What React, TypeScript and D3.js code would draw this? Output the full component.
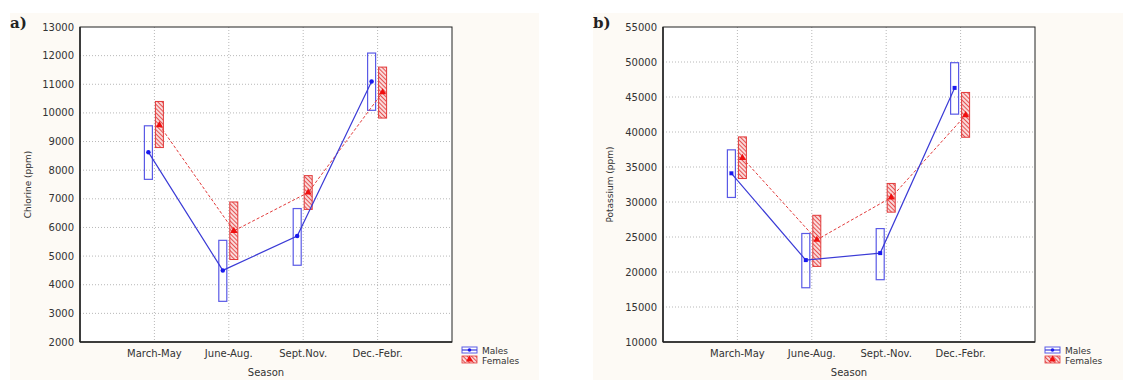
import * as d3 from "d3";

// seasons (x categories)
const seasonsA = ["March-May", "June-Aug.", "Sept.Nov.", "Dec.-Febr."];
const seasonsB = ["March-May", "June-Aug.", "Sept.-Nov.", "Dec.-Febr."];

// a) chlorine (ppm): means and box limits
const maleMeanCl = [8630, 4500, 5700, 11100];
const maleHiCl = [9550, 5550, 6660, 12090];
const maleLoCl = [7680, 3420, 4680, 10090];
const femaleMeanCl = [9570, 5880, 7220, 10720];
const femaleHiCl = [10400, 6890, 7810, 11600];
const femaleLoCl = [8790, 4880, 6630, 9820];
const ticksCl = [2000, 3000, 4000, 5000, 6000, 7000, 8000, 9000, 10000, 11000, 12000, 13000];

// b) potassium (ppm)
const maleMeanK = [34100, 21700, 22700, 46300];
const maleHiK = [37450, 25500, 26200, 49900];
const maleLoK = [30650, 17750, 18900, 42550];
const femaleMeanK = [36300, 24600, 30650, 42400];
const femaleHiK = [39300, 28100, 32650, 45650];
const femaleLoK = [33350, 20800, 28550, 39250];
const ticksK = [10000, 15000, 20000, 25000, 30000, 35000, 40000, 45000, 50000, 55000];

const legendNames = ["Males", "Females"];

const FONT = "'DejaVu Sans', sans-serif";
const BLUE = "#3b3bd6";
const RED = "#e23a3a";

type PanelProps = {
  id: string;
  title: string;
  bgX: number;
  bgW: number;
  left: number;
  right: number;
  yLabel: string;
  yLabelX: number;
  cats: string[];
  ticks: number[];
  mMean: number[];
  mHi: number[];
  mLo: number[];
  fMean: number[];
  fHi: number[];
  fLo: number[];
  squareMarker: boolean;
};

function Panel(p: PanelProps) {
  const top = 27;
  const bottom = 342;
  const x = d3.scalePoint<string>().domain(p.cats).range([p.left, p.right]).padding(1);
  const y = d3
    .scaleLinear()
    .domain([p.ticks[0], p.ticks[p.ticks.length - 1]])
    .range([bottom, top]);
  const mOff = -6;
  const fOff = 5;
  const bw = 8;

  const mPts: [number, number][] = p.cats.map((c, i) => [x(c)! + mOff, y(p.mMean[i])]);
  const fPts: [number, number][] = p.cats.map((c, i) => [x(c)! + fOff, y(p.fMean[i])]);
  const line = d3.line();
  const tri = d3.symbol().type(d3.symbolTriangle).size(22)()!;
  const maleSym = d3.symbol().type(p.squareMarker ? d3.symbolSquare : d3.symbolCircle).size(16)()!;
  const cx = (p.left + p.right) / 2;
  const cy = (top + bottom) / 2;
  const lx = p.right + 10;

  return (
    <g>
      <defs>
        <pattern id={"hatch" + p.id} patternUnits="userSpaceOnUse" width="3" height="3" patternTransform="rotate(-45)">
          <rect width="3" height="3" fill="#fadada" />
          <line x1="0" y1="0" x2="0" y2="3" stroke="#e03030" strokeWidth="1.6" />
        </pattern>
      </defs>
      <rect x={p.bgX} y={13} width={p.bgW} height={367} fill="#fdfaf5" />
      <text x={p.bgX} y={28} fontFamily="'DejaVu Serif', serif" fontWeight="bold" fontSize={15} fill="#222">
        {p.title}
      </text>
      <rect x={p.left} y={top} width={p.right - p.left} height={bottom - top} fill="#fff" />
      {/* grid */}
      {p.ticks.slice(1, -1).map((t) => (
        <line key={t} x1={p.left} x2={p.right} y1={y(t)} y2={y(t)} stroke="#b8b8b8" strokeDasharray="1,2" />
      ))}
      {p.cats.map((c) => (
        <line key={c} x1={x(c)} x2={x(c)} y1={top} y2={bottom} stroke="#b8b8b8" strokeDasharray="1,2" />
      ))}
      <rect x={p.left} y={top} width={p.right - p.left} height={bottom - top} fill="none" stroke="#222" strokeWidth={1} />
      <line x1={p.left} x2={p.left} y1={top} y2={bottom} stroke="#222" strokeWidth={1.5} />
      <line x1={p.left} x2={p.right} y1={bottom} y2={bottom} stroke="#222" strokeWidth={1.5} />
      {/* y tick labels */}
      {p.ticks.map((t) => (
        <text key={t} x={p.left - 6} y={y(t)} dy="0.35em" textAnchor="end" fontFamily={FONT} fontSize={10} fill="#333">
          {t}
        </text>
      ))}
      {p.cats.map((c) => (
        <text key={c} x={x(c)} y={357} textAnchor="middle" fontFamily={FONT} fontSize={10} fill="#333">
          {c}
        </text>
      ))}
      <text x={cx} y={376} textAnchor="middle" fontFamily={FONT} fontSize={10} fill="#333">
        Season
      </text>
      <text
        transform={`translate(${p.yLabelX},${cy}) rotate(-90)`}
        textAnchor="middle"
        dy="0.35em"
        fontFamily={FONT}
        fontSize={9}
        fill="#333"
      >
        {p.yLabel}
      </text>
      {/* boxes */}
      {p.cats.map((c, i) => (
        <rect
          key={"m" + c}
          x={x(c)! + mOff - bw / 2}
          y={y(p.mHi[i])}
          width={bw}
          height={y(p.mLo[i]) - y(p.mHi[i])}
          fill="none"
          stroke="#5a5ae6"
          strokeWidth={1.2}
        />
      ))}
      {p.cats.map((c, i) => (
        <rect
          key={"f" + c}
          x={x(c)! + fOff - bw / 2}
          y={y(p.fHi[i])}
          width={bw}
          height={y(p.fLo[i]) - y(p.fHi[i])}
          fill={`url(#hatch${p.id})`}
          stroke={RED}
          strokeWidth={1}
        />
      ))}
      {/* lines */}
      <path d={line(fPts)!} fill="none" stroke={RED} strokeWidth={1} strokeDasharray="3,2" />
      <path d={line(mPts)!} fill="none" stroke={BLUE} strokeWidth={1.2} />
      {mPts.map((pt, i) => (
        <path key={"mm" + i} d={maleSym} transform={`translate(${pt[0]},${pt[1]})`} fill="#1a1aee" />
      ))}
      {fPts.map((pt, i) => (
        <path key={"fm" + i} d={tri} transform={`translate(${pt[0]},${pt[1]})`} fill="#f01010" />
      ))}
      {/* legend */}
      <g>
        <rect x={lx} y={347} width={15} height={6} fill="#fff" stroke="#5a5ae6" />
        <line x1={lx} x2={lx + 15} y1={350} y2={350} stroke={BLUE} strokeWidth={1.2} />
        <circle cx={lx + 7.5} cy={350} r={1.8} fill="#1a1aee" />
        <text x={lx + 20} y={353.5} fontFamily={FONT} fontSize={9} fill="#333">
          {legendNames[0]}
        </text>
        <rect x={lx} y={356} width={15} height={7} fill={`url(#hatch${p.id})`} stroke={RED} strokeWidth={0.8} />
        <path d={tri} transform={`translate(${lx + 7.5},${359.5})`} fill="#f01010" />
        <text x={lx + 20} y={363.5} fontFamily={FONT} fontSize={9} fill="#333">
          {legendNames[1]}
        </text>
      </g>
    </g>
  );
}

export default function App() {
  return (
    <svg width={1123} height={380} style={{ position: "absolute", left: 0, top: 0, background: "#fff" }}>
      <Panel
        id="a"
        title="a)"
        bgX={10}
        bgW={529}
        left={80}
        right={452}
        yLabel="Chlorine (ppm)"
        yLabelX={28}
        cats={seasonsA}
        ticks={ticksCl}
        mMean={maleMeanCl}
        mHi={maleHiCl}
        mLo={maleLoCl}
        fMean={femaleMeanCl}
        fHi={femaleHiCl}
        fLo={femaleLoCl}
        squareMarker={false}
      />
      <Panel
        id="b"
        title="b)"
        bgX={593}
        bgW={530}
        left={663}
        right={1035}
        yLabel="Potassium (ppm)"
        yLabelX={610}
        cats={seasonsB}
        ticks={ticksK}
        mMean={maleMeanK}
        mHi={maleHiK}
        mLo={maleLoK}
        fMean={femaleMeanK}
        fHi={femaleHiK}
        fLo={femaleLoK}
        squareMarker={true}
      />
    </svg>
  );
}
